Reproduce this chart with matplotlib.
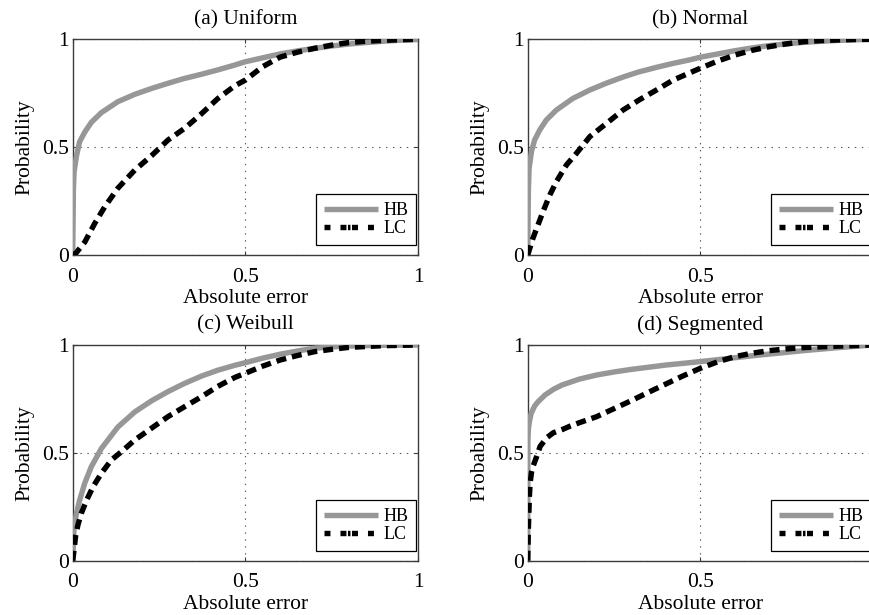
import matplotlib
matplotlib.use("Agg")
import matplotlib.pyplot as plt
from matplotlib.lines import Line2D

plt.rcParams['font.family'] = ['Liberation Serif', 'DejaVu Serif']
plt.rcParams['lines.scale_dashes'] = False

# Empirical CDFs of the absolute error for the two methods
titles = ["(a) Uniform", "(b) Normal", "(c) Weibull", "(d) Segmented"]
series_names = ["HB", "LC"]

# (a) Uniform
hb_a_x = [0.0, 0.002, 0.004, 0.011, 0.02, 0.035, 0.054, 0.083, 0.131, 0.18, 0.23, 0.276, 0.32, 0.373,
          0.42, 0.47, 0.5, 0.55, 0.6, 0.65, 0.7, 0.75, 0.8, 0.85, 0.9, 0.95, 1.0]
hb_a_y = [0.0, 0.30, 0.386, 0.46, 0.525, 0.57, 0.615, 0.66, 0.711, 0.745, 0.773, 0.796, 0.817, 0.838,
          0.858, 0.881, 0.896, 0.914, 0.932, 0.946, 0.958, 0.969, 0.978, 0.985, 0.991, 0.996, 0.999]
lc_a_x = [0.0, 0.01, 0.035, 0.064, 0.093, 0.131, 0.18, 0.228, 0.276, 0.324, 0.373, 0.42, 0.47, 0.5,
          0.55, 0.6, 0.65, 0.7, 0.75, 0.8, 0.85, 0.9, 0.95, 1.0]
lc_a_y = [0.0, 0.01, 0.06, 0.147, 0.224, 0.31, 0.394, 0.46, 0.533, 0.587, 0.655, 0.725, 0.785, 0.811,
          0.873, 0.917, 0.94, 0.958, 0.973, 0.985, 0.991, 0.995, 0.998, 1.0]

# (b) Normal
hb_b_x = [0.0, 0.002, 0.004, 0.011, 0.02, 0.035, 0.054, 0.083, 0.131, 0.18, 0.23, 0.276, 0.32, 0.373,
          0.42, 0.47, 0.5, 0.55, 0.6, 0.65, 0.7, 0.75, 0.8, 0.85, 0.9, 0.95, 1.0]
hb_b_y = [0.0, 0.30, 0.40, 0.48, 0.533, 0.58, 0.626, 0.672, 0.726, 0.765, 0.798, 0.825, 0.848, 0.87,
          0.888, 0.905, 0.917, 0.932, 0.947, 0.96, 0.971, 0.979, 0.986, 0.991, 0.995, 0.998, 1.0]
lc_b_x = [0.0, 0.015, 0.03, 0.044, 0.064, 0.083, 0.112, 0.141, 0.18, 0.228, 0.276, 0.324, 0.373, 0.42,
          0.47, 0.5, 0.55, 0.6, 0.65, 0.7, 0.75, 0.8, 0.85, 0.9, 0.95, 1.0]
lc_b_y = [0.0, 0.077, 0.14, 0.2, 0.278, 0.34, 0.417, 0.471, 0.549, 0.61, 0.672, 0.72, 0.765, 0.81,
          0.845, 0.866, 0.899, 0.927, 0.949, 0.966, 0.979, 0.989, 0.994, 0.997, 0.999, 1.0]

# (c) Weibull
hb_c_x = [0.0, 0.004, 0.011, 0.02, 0.035, 0.054, 0.083, 0.131, 0.18, 0.228, 0.276, 0.324, 0.373, 0.42,
          0.47, 0.5, 0.55, 0.6, 0.65, 0.7, 0.75, 0.8, 0.9, 1.0]
hb_c_y = [0.0, 0.158, 0.22, 0.28, 0.36, 0.436, 0.52, 0.62, 0.69, 0.741, 0.784, 0.822, 0.856, 0.883,
          0.906, 0.918, 0.939, 0.957, 0.972, 0.985, 0.991, 0.995, 0.999, 1.0]
lc_c_x = [0.0, 0.004, 0.008, 0.015, 0.025, 0.04, 0.059, 0.083, 0.112, 0.141, 0.18, 0.228, 0.276, 0.324,
          0.373, 0.42, 0.47, 0.5, 0.55, 0.6, 0.65, 0.7, 0.75, 0.8, 0.9, 1.0]
lc_c_y = [0.0, 0.05, 0.11, 0.165, 0.22, 0.28, 0.343, 0.405, 0.467, 0.505, 0.56, 0.614, 0.668, 0.714,
          0.76, 0.808, 0.85, 0.869, 0.902, 0.93, 0.951, 0.969, 0.98, 0.989, 0.997, 1.0]

# (d) Segmented
hb_d_x = [0.0, 0.0005, 0.002, 0.005, 0.01, 0.02, 0.03, 0.05, 0.075, 0.1, 0.15, 0.2, 0.25, 0.3, 0.35,
          0.4, 0.45, 0.5, 0.55, 0.6, 0.65, 0.7, 0.75, 0.8, 0.85, 0.9, 0.95, 1.0]
hb_d_y = [0.0, 0.55, 0.61, 0.645, 0.683, 0.717, 0.737, 0.768, 0.795, 0.815, 0.842, 0.861, 0.875, 0.887, 0.897,
          0.907, 0.915, 0.923, 0.932, 0.941, 0.95, 0.958, 0.966, 0.974, 0.981, 0.988, 0.994, 1.0]
lc_d_x = [0.0, 0.002, 0.005, 0.007, 0.011, 0.016, 0.026, 0.036, 0.055, 0.074, 0.1, 0.123, 0.15, 0.2, 0.25,
          0.3, 0.35, 0.4, 0.45, 0.5, 0.55, 0.6, 0.65, 0.7, 0.75, 0.8, 0.9, 1.0]
lc_d_y = [0.0, 0.15, 0.30, 0.36, 0.41, 0.44, 0.483, 0.53, 0.57, 0.593, 0.608, 0.624, 0.64, 0.668, 0.705,
          0.742, 0.781, 0.819, 0.857, 0.892, 0.922, 0.946, 0.962, 0.974, 0.982, 0.988, 0.995, 1.0]

panels = [
    (hb_a_x, hb_a_y, lc_a_x, lc_a_y),
    (hb_b_x, hb_b_y, lc_b_x, lc_b_y),
    (hb_c_x, hb_c_y, lc_c_x, lc_c_y),
    (hb_d_x, hb_d_y, lc_d_x, lc_d_y),
]
tick_values = [0, 0.5, 1]
tick_labels = ["0", "0.5", "1"]

W, H = 870, 615
fig = plt.figure(figsize=(W / 100, H / 100), dpi=100)

ax_w, ax_h = 345.3, 215.7
lefts = [72.7, 527.7, 72.7, 527.7]
bottoms = [255.0, 255.0, 560.7, 560.7]

HB_COLOR = "#979797"
LW = 3.9
SPINE = "#3c3c3c"

for i, (hx, hy, lx, ly) in enumerate(panels):
    ax = fig.add_axes([lefts[i] / W, (H - bottoms[i]) / H, ax_w / W, ax_h / H])
    ax.plot(hx, hy, color=HB_COLOR, lw=LW, solid_capstyle="butt", zorder=3)
    ax.plot(lx, ly, color="black", lw=LW, dashes=(7.2, 4.3), zorder=4)
    ax.set_xlim(0, 1)
    ax.set_ylim(0, 1)
    # the right-hand panels run past the figure edge, so their last x tick is not labelled
    n_x = 3 if i % 2 == 0 else 2
    ax.set_xticks(tick_values[:n_x])
    ax.set_xticklabels(tick_labels[:n_x])
    ax.set_yticks(tick_values)
    ax.set_yticklabels(tick_labels)
    ax.tick_params(direction="in", length=3, width=0.8, color=SPINE, labelsize=15.5,
                   top=True, right=True)
    ax.tick_params(axis="x", pad=9)
    ax.tick_params(axis="y", pad=3)
    ax.grid(True, linestyle=(0, (1, 4)), linewidth=0.8, color="#555555")
    for sp in ax.spines.values():
        sp.set_color(SPINE)
        sp.set_linewidth(1.0)
    ax.set_title(titles[i], fontsize=15.5, pad=11)
    ax.set_xlabel("Absolute error", fontsize=15.5, labelpad=2)
    ax.set_ylabel("Probability", fontsize=15.5, labelpad=5)

    hb_handle = Line2D([], [], color=HB_COLOR, lw=LW, solid_capstyle="butt")
    lc_handle = Line2D([], [], color="black", lw=LW,
                       dashes=(4.3, 7.2, 4.3, 1.1, 1.8, 1.1, 4.3, 7.2))
    leg = ax.legend([hb_handle, lc_handle], series_names, loc="lower right",
                    bbox_to_anchor=(0.995, 0.045), borderaxespad=0,
                    fontsize=13, handlelength=2.95, handletextpad=0.3,
                    labelspacing=0.05, borderpad=0.45, fancybox=False, framealpha=1)
    leg.get_frame().set_edgecolor("black")
    leg.get_frame().set_linewidth(0.9)

fig.savefig("out.png", dpi=100)
